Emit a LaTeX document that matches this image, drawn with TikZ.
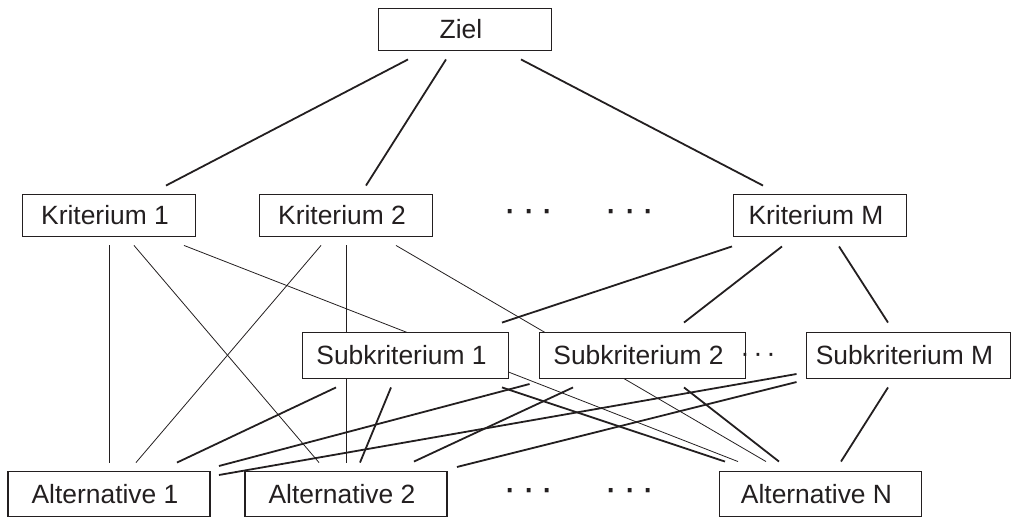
\documentclass[tikz,border=0pt]{standalone}
\usepackage{fontspec}
\setmainfont{Liberation Sans}
\usetikzlibrary{backgrounds}
\definecolor{ink}{RGB}{35,31,32}

\begin{document}
\begin{tikzpicture}[x=0.5pt, y=-0.5pt,
    box/.style={draw=ink, fill=white, line width=0.95pt, rectangle, inner sep=0pt,
        text=ink, font=\fontsize{13.2}{15}\selectfont, execute at end node={\kern4pt}},
    crit/.style={box, minimum width=86.5pt, minimum height=21pt},
    sub/.style={box, minimum width=103pt, minimum height=23pt},
    alt/.style={box, minimum width=101pt, minimum height=22.5pt},
    thin link/.style={draw=ink, line width=0.4pt},
    thick link/.style={draw=ink, line width=0.9pt},
    more/.style={text=ink, inner sep=0pt, text height=0.64em, text depth=0pt}]
                \useasboundingbox (0,0) rectangle (1012,518);
                \node[crit] (ziel) at (465,29.5) {Ziel};
                \node[crit] (k1) at (109,215.5) {Kriterium 1};
                \node[crit] (k2) at (346,215.5) {Kriterium 2};
                \node[crit] (km) at (820,215.5) {Kriterium M};
                \node[sub] (s1) at (405.5,355.5) {Subkriterium 1};
                \node[sub] (s2) at (642.5,355.5) {Subkriterium 2};
                \node[sub, minimum width=102pt] (sm) at (908.5,355.5) {Subkriterium M};
                \node[alt] (a1) at (109,494) {Alternative 1};
                \node[alt] (a2) at (346,494) {Alternative 2};
                \node[alt] (an) at (820.5,494) {Alternative N};

                % Punkte zwischen den Kästen
                \node[more, font=\fontsize{20}{20}\selectfont] (kdots1) at (529,216) {·\hspace{2.6pt}·\hspace{2.6pt}·};
                \node[more, font=\fontsize{20}{20}\selectfont] (kdots2) at (630,216) {·\hspace{2.6pt}·\hspace{2.6pt}·};
                \node[more, font=\fontsize{14}{14}\selectfont] (sdots) at (758,355.7) {·\hspace{1.8pt}·\hspace{1.8pt}·};
                \node[more, font=\fontsize{20}{20}\selectfont] (adots1) at (529,495) {·\hspace{2.6pt}·\hspace{2.6pt}·};
                \node[more, font=\fontsize{20}{20}\selectfont] (adots2) at (630,495) {·\hspace{2.6pt}·\hspace{2.6pt}·};

                \begin{scope}[on background layer]
                % Ziel -> Kriterien
                \draw[thick link] ([shift={(-57,8)}]ziel.south) -- ([shift={(57,-8)}]k1.north);
                \draw[thick link] ([shift={(-19,8)}]ziel.south) -- ([shift={(20,-8)}]k2.north);
                \draw[thick link] ([shift={(56,8)}]ziel.south) -- ([shift={(-57,-8)}]km.north);
                % Kriterium 1 und 2 -> Alternativen
                \draw[thin link] ([shift={(0,8)}]k1.south) -- ([shift={(0,-8)}]a1.north);
                \draw[thin link] ([shift={(25,8)}]k1.south) -- ([shift={(-27,-8)}]a2.north);
                \draw[thin link] ([shift={(75,8)}]k1.south) -- ([shift={(-82.5,-9)}]an.north);
                \draw[thin link] ([shift={(-25,8)}]k2.south) -- ([shift={(27,-8)}]a1.north);
                \draw[thin link] ([shift={(0,8)}]k2.south) -- ([shift={(0,-8)}]a2.north);
                \draw[thin link] ([shift={(50,8)}]k2.south) -- ([shift={(-54.5,-9)}]an.north);
                % Kriterium M -> Subkriterien
                \draw[thick link] ([shift={(-88,9)}]km.south) -- ([shift={(96.5,-9)}]s1.north);
                \draw[thick link] ([shift={(-38,9)}]km.south) -- ([shift={(41.5,-9)}]s2.north);
                \draw[thick link] ([shift={(19,9)}]km.south) -- ([shift={(-20.5,-9)}]sm.north);
                % Subkriterien -> Alternativen
                \draw[thick link] ([shift={(-69.5,8)}]s1.south) -- ([shift={(68,-8)}]a1.north);
                \draw[thick link] ([shift={(-14.5,8)}]s1.south) -- ([shift={(14,-8)}]a2.north);
                \draw[thick link] ([shift={(96.5,8)}]s1.south) -- ([shift={(-95.5,-9)}]an.north);
                \draw[thick link] ([shift={(-9,28.5)}]s2.west) -- ([shift={(8,-28)}]a1.east);
                \draw[thick link] ([shift={(-69.5,8)}]s2.south) -- ([shift={(68,-9)}]a2.north);
                \draw[thick link] ([shift={(41.5,8)}]s2.south) -- ([shift={(-41.5,-9)}]an.north);
                \draw[thick link] ([shift={(-9,18.5)}]sm.west) -- ([shift={(8,-19)}]a1.east);
                \draw[thick link] ([shift={(-9,26.5)}]sm.west) -- ([shift={(9,-27)}]a2.east);
                \draw[thick link] ([shift={(-20.5,8)}]sm.south) -- ([shift={(20.5,-9)}]an.north);
                \end{scope}
            \end{tikzpicture}
\end{document}
